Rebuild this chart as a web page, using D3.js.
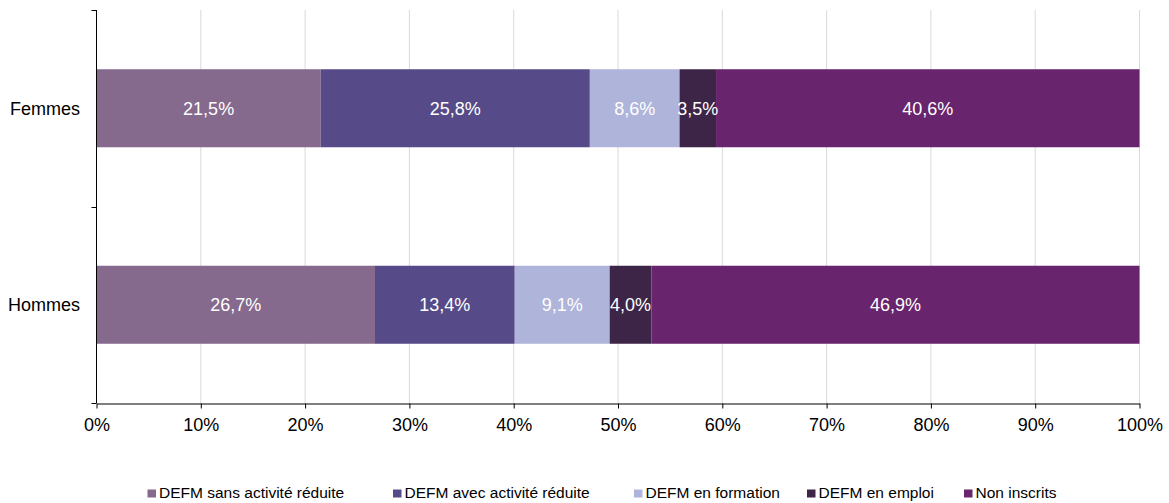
<!DOCTYPE html>
<html>
<head>
<meta charset="utf-8">
<script src="https://cdn.jsdelivr.net/npm/d3@7"></script>
<style>
  body { margin: 0; background: #fff; }
  svg text { font-family: "Liberation Sans", Arial, sans-serif; fill: #000; }
</style>
</head>
<body>
<div id="chart"></div>
<script>
var categories = ["Femmes", "Hommes"];
var seriesNames = ["DEFM sans activité réduite", "DEFM avec activité réduite", "DEFM en formation", "DEFM en emploi", "Non inscrits"];
var femmesValues = [21.5, 25.8, 8.6, 3.5, 40.6];
var hommesValues = [26.7, 13.4, 9.1, 4.0, 46.9];
var seriesColors = ["#866a8e", "#564b88", "#afb4da", "#3d2548", "#68246c"];
var tickValues = [0, 10, 20, 30, 40, 50, 60, 70, 80, 90, 100];

(function () {
    var margin = { top: 10, left: 96.5, right: 29.5, bottom: 100 },
        totalW = 1169, totalH = 503,
        width = totalW - margin.left - margin.right,
        height = totalH - margin.top - margin.bottom;

    var svg = d3.select("#chart")
        .append("svg")
        .attr("width", totalW)
        .attr("height", totalH)
        .append("g")
        .attr("transform", "translate(" + margin.left + "," + margin.top + ")");

    var x = d3.scaleLinear().domain([0, 100]).range([0, width]);
    var y = d3.scaleBand().domain(categories).range([0, height]).padding(0);
    var barH = y.bandwidth() * 0.397;

    // grid lines
    svg.selectAll(".grid")
        .data(tickValues.slice(1))
        .enter().append("line")
        .attr("x1", d => x(d)).attr("x2", d => x(d))
        .attr("y1", 0).attr("y2", height)
        .attr("stroke", "#d9d9d9").attr("stroke-width", 1);

    var rows = categories.map((c, i) => ({ cat: c, values: i === 0 ? femmesValues : hommesValues }));

    rows.forEach(function (row) {
        var acc = 0;
        var segs = row.values.map(function (v, j) {
            var s = { x0: acc, x1: acc + v, v: v, j: j };
            acc += v;
            return s;
        });
        var yc = y(row.cat) + y.bandwidth() / 2;
        var g = svg.append("g");
        g.selectAll("rect")
            .data(segs)
            .enter().append("rect")
            .attr("x", d => x(d.x0))
            .attr("width", d => x(Math.min(d.x1, 100)) - x(d.x0))
            .attr("y", yc - barH / 2)
            .attr("height", barH)
            .attr("fill", d => seriesColors[d.j]);
        g.selectAll("text")
            .data(segs)
            .enter().append("text")
            .attr("x", d => (x(d.x0) + x(Math.min(d.x1, 100))) / 2)
            .attr("y", yc)
            .attr("dy", "0.36em")
            .attr("text-anchor", "middle")
            .style("font-size", "18px")
            .style("fill", "#fff")
            .text(d => d3.format(".1f")(d.v).replace(".", ",") + "%");
    });

    // category labels
    svg.selectAll(".cat")
        .data(categories)
        .enter().append("text")
        .attr("x", -16.5)
        .attr("y", d => y(d) + y.bandwidth() / 2)
        .attr("dy", "0.36em")
        .attr("text-anchor", "end")
        .style("font-size", "18px")
        .text(d => d);

    // y axis line and ticks at band boundaries
    svg.append("line")
        .attr("x1", 0).attr("x2", 0).attr("y1", 0).attr("y2", height)
        .attr("stroke", "#000");
    svg.selectAll(".ytick")
        .data(categories.map(c => y(c)).concat([height]))
        .enter().append("line")
        .attr("x1", -5).attr("x2", 0)
        .attr("y1", d => Math.round(d) + 0.5).attr("y2", d => Math.round(d) + 0.5)
        .attr("stroke", "#000");

    // x axis
    var xAxis = svg.append("g")
        .attr("transform", "translate(0," + (height + 0.5) + ")")
        .call(d3.axisBottom(x).tickValues(tickValues).tickSize(5).tickSizeOuter(0).tickFormat(d => d + "%"));
    xAxis.select(".domain").attr("stroke", "#000");
    xAxis.selectAll("text")
        .attr("y", 15)
        .style("font-size", "18px")
        .style("font-family", "'Liberation Sans', Arial, sans-serif");

    // legend
    var legendX = [147.5, 393, 634, 807, 964];
    var legend = d3.select("svg").append("g");
    var items = legend.selectAll("g")
        .data(seriesNames)
        .enter().append("g")
        .attr("transform", (d, i) => "translate(" + legendX[i] + ",489.5)");
    items.append("rect")
        .attr("width", 8.5).attr("height", 8)
        .attr("fill", (d, i) => seriesColors[i]);
    items.append("text")
        .attr("x", 11.5)
        .attr("y", 8)
        .style("font-size", "15.5px")
        .text(d => d);
})()
</script>
</body>
</html>
